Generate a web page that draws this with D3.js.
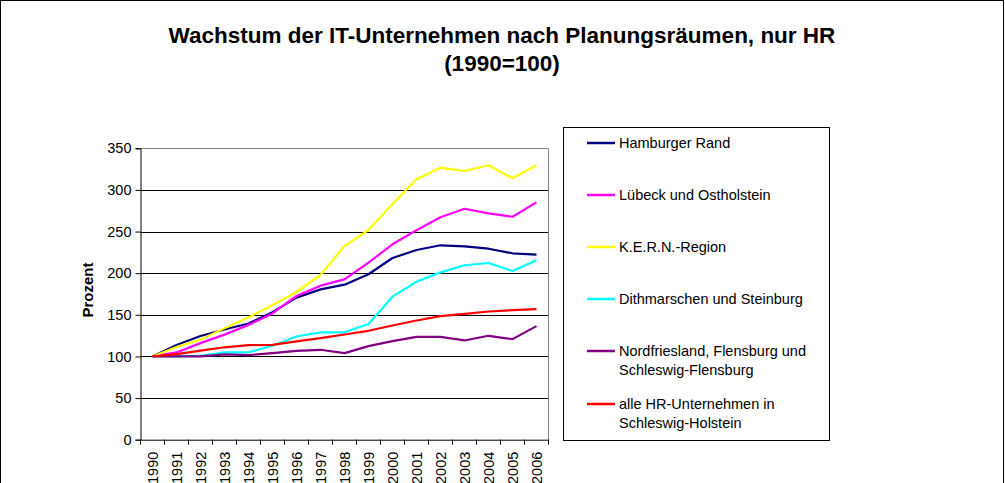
<!DOCTYPE html>
<html><head><meta charset="utf-8">
<script src="https://cdn.jsdelivr.net/npm/d3@7"></script>
<style>body{margin:0;background:#fff;} svg{display:block;font-family:"Liberation Sans",Arial,sans-serif;}</style>
</head><body><svg id="c" width="1005" height="483"></svg>
<script>
const years = ["1990","1991","1992","1993","1994","1995","1996","1997","1998","1999","2000","2001","2002","2003","2004","2005","2006"];
const seriesNames = ["Hamburger Rand","Lübeck und Ostholstein","K.E.R.N.-Region","Dithmarschen und Steinburg","Nordfriesland, Flensburg und|Schleswig-Flensburg","alle HR-Unternehmen in|Schleswig-Holstein"];
const seriesColors = ["#000080","#ff00ff","#ffff00","#00ffff","#800080","#ff0000"];
const hamburgerRand = [100,113.7,124.6,132.3,139.5,153.2,170.6,180.6,186.2,198.7,218.2,227.8,233.5,232.3,229.4,223.9,222.2];
const luebeckOstholstein = [100,104.8,116,126.2,137.9,151.6,172.6,185,192.6,212.6,234.7,251.5,267.1,277.4,271.9,267.8,285.1];
const kernRegion = [100,111.3,120.2,133.9,146.8,161.7,177.4,197.8,232.6,251.9,283.1,312.8,326.7,322.7,329.6,314,329.6];
const dithmarschenSteinburg = [100,100,100.8,105,105,112.8,124,129,129,139,171.8,189.8,201,209.5,212.2,202.6,215.5];
const nordfriesland = [100,100,100,102.4,101.6,104,106.8,108,104,112.4,118.4,123.6,123.6,119.2,124.8,120.8,136.4];
const alleHR = [100,102.8,107,111,113.6,114,118,122,126.4,130.8,137.2,143.2,148.4,151.2,154,155.6,156.8];
const allSeries = [hamburgerRand,luebeckOstholstein,kernRegion,dithmarschenSteinburg,nordfriesland,alleHR];
const yTicks = [0,50,100,150,200,250,300,350];
const titleLines = ["Wachstum der IT-Unternehmen nach Planungsräumen, nur HR","(1990=100)"];

const FONT = "Liberation Sans, Arial, sans-serif";
const svg = d3.select("#c");
svg.append("rect").attr("x",0.5).attr("y",0.5).attr("width",1003).attr("height",500)
  .attr("fill","none").attr("stroke","#000").attr("stroke-width",1);

titleLines.forEach((t,i)=>{
  svg.append("text").attr("x",502).attr("y",43+i*28).attr("text-anchor","middle")
    .attr("font-size",22.5).attr("font-weight","bold").text(t);
});

const L=140.5, R=548.5, T=148.3, B=439.7;
const x = d3.scaleBand().domain(years).range([L,R]);
const y = d3.scaleLinear().domain([0,350]).range([B,T]);

svg.append("g").selectAll("line").data(yTicks.filter(d=>d>0)).join("line")
  .attr("x1",L).attr("x2",R).attr("y1",d=>Math.round(y(d))+0.5).attr("y2",d=>Math.round(y(d))+0.5)
  .attr("stroke",d=>d===350?"#808080":"#000").attr("stroke-width",1);
svg.append("line").attr("x1",R).attr("x2",R).attr("y1",Math.round(T)+0.5).attr("y2",B)
  .attr("stroke","#808080");

const yAxis = d3.axisLeft(y).tickValues(yTicks).tickSize(5).tickPadding(4);
const gy = svg.append("g").attr("transform",`translate(${L},0)`).call(yAxis);
gy.selectAll("text").attr("font-size",14.5).attr("fill","#000").attr("font-family",FONT);
gy.selectAll("line,path").attr("stroke","#000");

const xAxis = d3.axisBottom(x).tickSize(0).tickPadding(0);
const gx = svg.append("g").attr("transform",`translate(0,${B})`).call(xAxis);
gx.select("path").attr("stroke","#000");
gx.selectAll("text").attr("font-size",14.5).attr("fill","#000").attr("font-family",FONT)
  .attr("transform","rotate(-90)").attr("text-anchor","end").attr("dy","0.35em").attr("x",-12).attr("y",0);
svg.append("g").selectAll("line").data(years.concat(["end"])).join("line")
  .attr("x1",(d,i)=>L+i*x.bandwidth()).attr("x2",(d,i)=>L+i*x.bandwidth())
  .attr("y1",B).attr("y2",B+5).attr("stroke","#000");

svg.append("text").attr("transform",`translate(93,290) rotate(-90)`).attr("text-anchor","middle")
  .attr("font-size",15).attr("font-weight","bold").text("Prozent");

const line = d3.line().x((d,i)=>x(years[i])+x.bandwidth()/2).y(d=>y(d));
allSeries.forEach((s,k)=>{
  svg.append("path").datum(s).attr("d",line).attr("fill","none")
    .attr("stroke",seriesColors[k]).attr("stroke-width",2.2).attr("stroke-linejoin","round");
});

svg.append("rect").attr("x",563.5).attr("y",127.5).attr("width",266).attr("height",313)
  .attr("fill","#fff").attr("stroke","#000");
const legY = [143,195,247,299,351,404];
seriesNames.forEach((n,k)=>{
  svg.append("line").attr("x1",587).attr("x2",615).attr("y1",legY[k]).attr("y2",legY[k])
    .attr("stroke",seriesColors[k]).attr("stroke-width",2.5);
  n.split("|").forEach((p,j)=>{
    svg.append("text").attr("x",619).attr("y",legY[k]+j*18.5).attr("dy","0.35em")
      .attr("font-size",14.5).text(p);
  });
});
</script></body></html>
